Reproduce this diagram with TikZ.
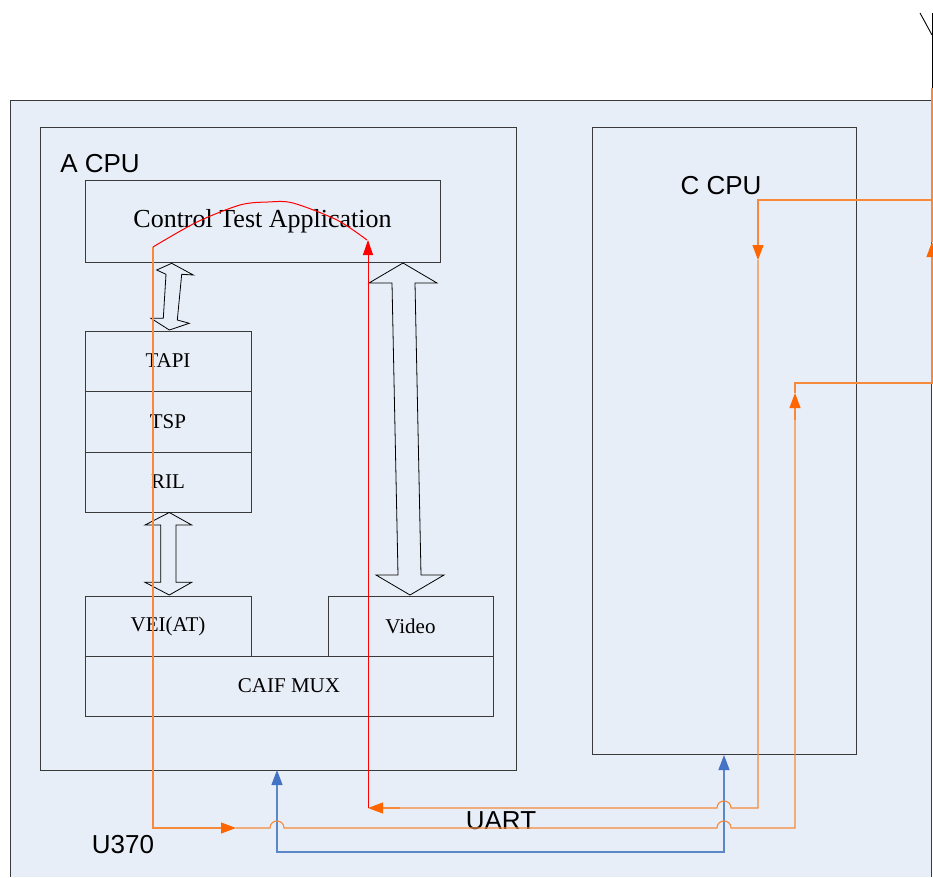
\documentclass[tikz,border=0pt]{standalone}
\usepackage{fontspec}
\setmainfont{Liberation Serif}
\newfontfamily\sansf{Liberation Sans}
\usetikzlibrary{arrows.meta}
\definecolor{bgblue}{HTML}{E8EEF7}
\definecolor{orgline}{HTML}{F7893B}
\definecolor{orghead}{HTML}{FF6600}
\definecolor{bluline}{HTML}{5B87C8}
\definecolor{bluhead}{HTML}{4472C4}
\definecolor{boxline}{HTML}{3A3A3A}
\tikzset{
  box/.style={draw=boxline, line width=0.9pt, inner sep=0pt},
  small/.style={font=\fontsize{21}{25}\selectfont},
  big/.style={font=\fontsize{26}{30}\selectfont},
  lbl/.style={font=\sansf\fontsize{26}{30}\selectfont, inner sep=0pt},
  dbl/.style={draw=black, line width=0.8pt, line join=miter},
  oline/.style={draw=orgline, line width=1.1pt},
  ohead/.style={-{Triangle[length=15pt,width=11pt,color=orghead]}},
  bline/.style={draw=bluline, line width=1.1pt},
  bhead/.style={{Triangle[length=15pt,width=11pt,color=bluhead]}-{Triangle[length=15pt,width=11pt,color=bluhead]}},
  rline/.style={draw=red, line width=1pt},
}
\begin{document}
\begin{tikzpicture}[x=1pt,y=-1pt]
\useasboundingbox (0,0) rectangle (933,877);
% outer board
\fill[bgblue] (10,100) rectangle (931,877);
\draw[boxline, line width=0.9pt] (10,877) -- (10,100) -- (931,100) -- (931,877);
% antenna
\draw[black, line width=0.9pt] (920,13) -- (932,35);
\draw[black, line width=0.9pt] (932,13) -- (932,88);

% CPU boxes
\node[box, minimum width=476pt, minimum height=643pt] (acpu) at (278,448.5) {};
\node[box, minimum width=264pt, minimum height=627pt] (ccpu) at (724,440.5) {};
\node[lbl] (acpul) at (100,164) {A CPU};
\node[lbl] (ccpul) at (721,186) {C CPU};
\node[lbl] (uart) at (501,821) {UART};
\node[lbl] (u370) at (123,845) {U370};

% inner boxes
\node[box, big, minimum width=355pt, minimum height=82pt] (cta) at (262.5,221) {Control Test Application};
\node[box, small, minimum width=166pt, minimum height=60pt] (tapi) at (168,361) {TAPI};
\node[box, small, minimum width=166pt, minimum height=61pt] (tsp) at (168,421.5) {TSP};
\node[box, small, minimum width=166pt, minimum height=60pt] (ril) at (168,482) {RIL};
\node[box, small, minimum width=166pt, minimum height=60pt] (vei) at (168,626) {VEI(AT)};
\node[box, small, minimum width=165pt, minimum height=60pt] (video) at (410.5,626) {Video};
\node[box, small, minimum width=408pt, minimum height=60pt] (caif) at (289,686) {CAIF MUX};

% double arrows
\draw[dbl] (171.7,263.3) -- (156.7,270) -- (166,274.3) -- (163.3,318.3) -- (151,318.3)
  -- (169.3,330) -- (189.3,323.3) -- (177.3,320) -- (181.7,274.3) -- (193.3,275) -- cycle;
\draw[dbl] (169.3,512.5) -- (145,525) -- (160.7,525) -- (160.7,582.3) -- (145,582.3)
  -- (169.3,595) -- (191.7,582.3) -- (176,582.3) -- (176,525) -- (191.7,525) -- cycle;
\draw[dbl] (403,263) -- (369,283) -- (392,283) -- (398,575) -- (376,575)
  -- (410,595) -- (444,575) -- (421,575) -- (415,283) -- (437,283) -- cycle;

% blue link
\draw[bline, bhead] (277,770) -- (277,852) -- (724,852) -- (724,755);

% orange path 1
\draw[oline, ohead] (153,247) -- (153,828) -- (236,828);
\draw[oline] (236,828) -- (270,828) .. controls (270,818.7) and (284,818.7) .. (284,828)
  -- (717,828) .. controls (717,818.7) and (731,818.7) .. (731,828) -- (795,828) -- (795,408);
\draw[oline, ohead] (795,420) -- (795,393);
\draw[oline] (795,393) -- (795,383) -- (932,383) -- (932,257);
\draw[oline, ohead] (932,270) -- (932,242);
\draw[oline] (932,242) -- (932,88);

% orange path 2
\draw[oline, ohead] (932,200) -- (758,200) -- (758,260);
\draw[oline] (758,260) -- (758,808) -- (731,808) .. controls (731,798.7) and (717,798.7) .. (717,808) -- (400,808);
\draw[oline, ohead] (400,808) -- (368,808);

% red path
\draw[rline, -{Triangle[length=15pt,width=10pt,color=red]}] (368,808) -- (368,240);
\draw[rline] plot[smooth, tension=0.5] coordinates {(153,247) (197,222) (240,205) (268,202) (293,203) (337,220) (367,240)};
\end{tikzpicture}
\end{document}
